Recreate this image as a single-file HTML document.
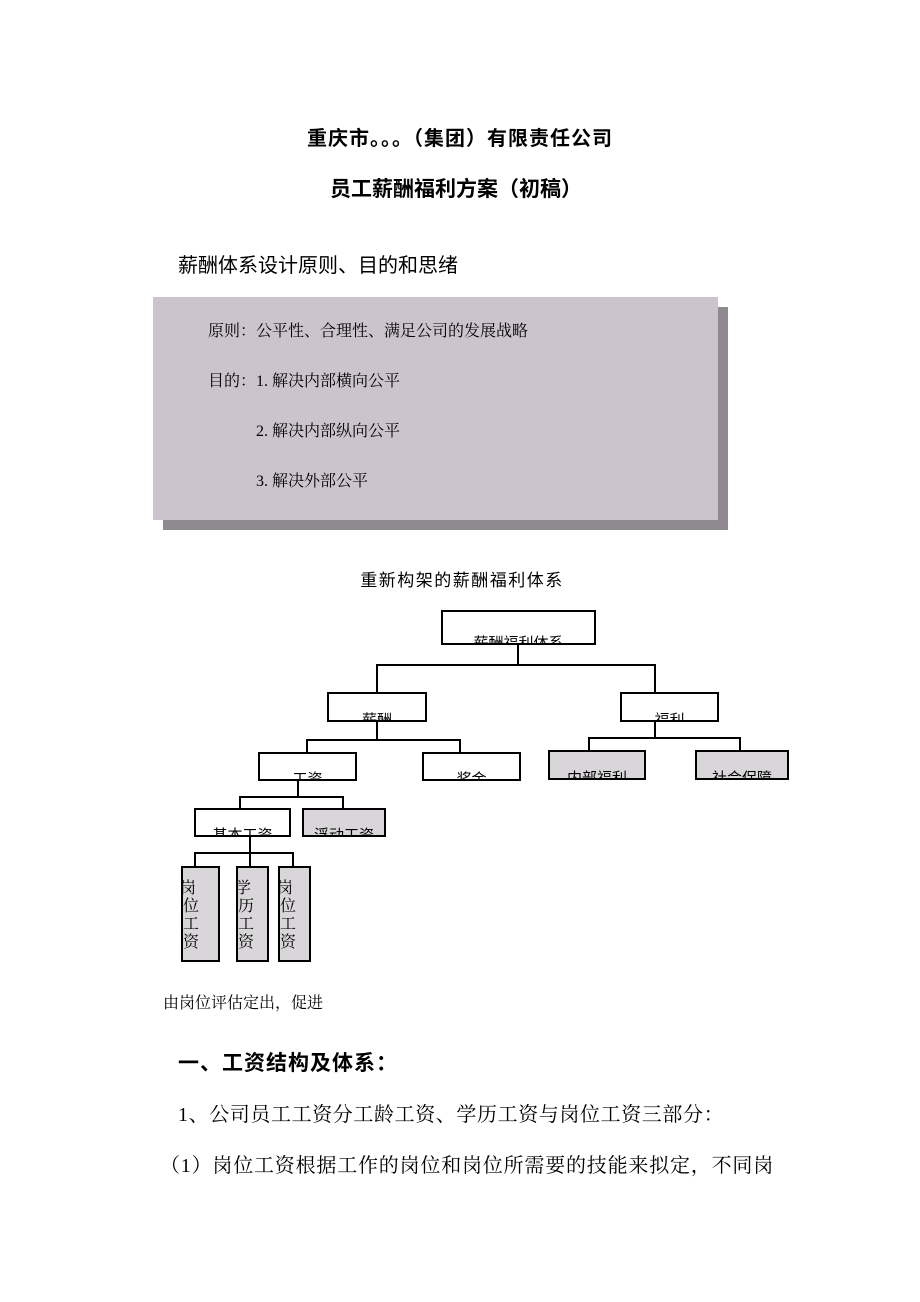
<!DOCTYPE html>
<html><head><meta charset="utf-8"><style>
body{margin:0;width:920px;height:1302px;background:#fff;position:relative;overflow:hidden;font-family:"Liberation Serif","Noto Serif CJK SC",serif;color:#000}
.a{position:absolute;white-space:nowrap}
.s{font-family:"Liberation Sans","Noto Sans CJK SC",sans-serif}
.b{position:absolute;border:2px solid #000;box-sizing:border-box;background:#fff;overflow:hidden;font-family:"Liberation Sans","Noto Sans CJK SC",sans-serif;font-size:15px;text-align:center}
.b span{position:absolute;left:0;right:0;bottom:-10px}
.g{background:#d8d6d8}
.l{position:absolute;background:#000}
.v{position:absolute;border:2px solid #000;box-sizing:border-box;background:#d8d6d8;font-family:"Liberation Serif","Noto Serif CJK SC",serif;font-size:16px;line-height:18px;overflow:hidden;padding-top:12px;text-indent:-3px}
</style></head><body>
<div class="a s" style="left:0;width:920px;text-align:center;top:122px;font-size:20px;font-weight:bold;letter-spacing:1px">重庆市。。。（集团）有限责任公司</div>
<div class="a s" style="left:0;width:912px;text-align:center;top:173px;font-size:21px;font-weight:bold">员工薪酬福利方案（初稿）</div>
<div class="a s" style="left:178px;top:249px;font-size:20px">薪酬体系设计原则、目的和思绪</div>
<div style="position:absolute;left:163px;top:307px;width:565px;height:223px;background:#8f8a90"></div>
<div style="position:absolute;left:153px;top:297px;width:565px;height:223px;background:#cbc4cc"></div>
<div class="a" style="left:208px;top:318px;font-size:16px">原则：公平性、合理性、满足公司的发展战略</div>
<div class="a" style="left:208px;top:368px;font-size:16px">目的：1. 解决内部横向公平</div>
<div class="a" style="left:256px;top:418px;font-size:16px">2. 解决内部纵向公平</div>
<div class="a" style="left:256px;top:468px;font-size:16px">3. 解决外部公平</div>
<div class="a s" style="left:0;width:924px;text-align:center;top:566px;font-size:17px;letter-spacing:1.5px">重新构架的薪酬福利体系</div>

<div class="b" style="left:441px;top:610px;width:155px;height:35px"><span>薪酬福利体系</span></div>
<div class="l" style="left:517px;top:644px;width:2px;height:22px"></div>
<div class="l" style="left:376px;top:664px;width:280px;height:2px"></div>
<div class="l" style="left:376px;top:664px;width:2px;height:28px"></div>
<div class="l" style="left:654px;top:664px;width:2px;height:28px"></div>
<div class="b" style="left:327px;top:692px;width:100px;height:30px"><span>薪酬</span></div>
<div class="b" style="left:620px;top:692px;width:99px;height:30px"><span>福利</span></div>
<div class="l" style="left:376px;top:721px;width:2px;height:20px"></div>
<div class="l" style="left:306px;top:739px;width:155px;height:2px"></div>
<div class="l" style="left:306px;top:739px;width:2px;height:13px"></div>
<div class="l" style="left:459px;top:739px;width:2px;height:13px"></div>
<div class="b" style="left:258px;top:752px;width:99px;height:29px"><span>工资</span></div>
<div class="b" style="left:422px;top:752px;width:99px;height:29px"><span>奖金</span></div>
<div class="l" style="left:654px;top:721px;width:2px;height:18px"></div>
<div class="l" style="left:588px;top:737px;width:153px;height:2px"></div>
<div class="l" style="left:588px;top:737px;width:2px;height:13px"></div>
<div class="l" style="left:739px;top:737px;width:2px;height:13px"></div>
<div class="b g" style="left:548px;top:750px;width:98px;height:30px"><span>内部福利</span></div>
<div class="b g" style="left:695px;top:750px;width:94px;height:30px"><span>社会保障</span></div>
<div class="l" style="left:297px;top:780px;width:2px;height:18px"></div>
<div class="l" style="left:239px;top:796px;width:105px;height:2px"></div>
<div class="l" style="left:239px;top:796px;width:2px;height:12px"></div>
<div class="l" style="left:342px;top:796px;width:2px;height:12px"></div>
<div class="b" style="left:194px;top:808px;width:97px;height:29px"><span>基本工资</span></div>
<div class="b g" style="left:302px;top:808px;width:84px;height:29px"><span>浮动工资</span></div>
<div class="l" style="left:249px;top:836px;width:2px;height:30px"></div>
<div class="l" style="left:194px;top:852px;width:100px;height:2px"></div>
<div class="l" style="left:194px;top:852px;width:2px;height:14px"></div>
<div class="l" style="left:292px;top:852px;width:2px;height:14px"></div>
<div class="v" style="left:181px;top:866px;width:39px;height:96px">岗<br>位<br>工<br>资</div>
<div class="v" style="left:236px;top:866px;width:33px;height:96px">学<br>历<br>工<br>资</div>
<div class="v" style="left:278px;top:866px;width:33px;height:96px">岗<br>位<br>工<br>资</div>
<div class="a" style="left:163px;top:990px;font-size:16px">由岗位评估定出，促进</div>
<div class="a s" style="left:178px;top:1047px;font-size:21px;font-weight:bold;letter-spacing:1px">一、工资结构及体系：</div>
<div class="a" style="left:178px;top:1098px;font-size:20px;letter-spacing:0.6px">1、公司员工工资分工龄工资、学历工资与岗位工资三部分：</div>
<div class="a" style="left:160px;top:1149px;font-size:20px;letter-spacing:0.8px">（1）岗位工资根据工作的岗位和岗位所需要的技能来拟定，不同岗</div>
</body></html>
